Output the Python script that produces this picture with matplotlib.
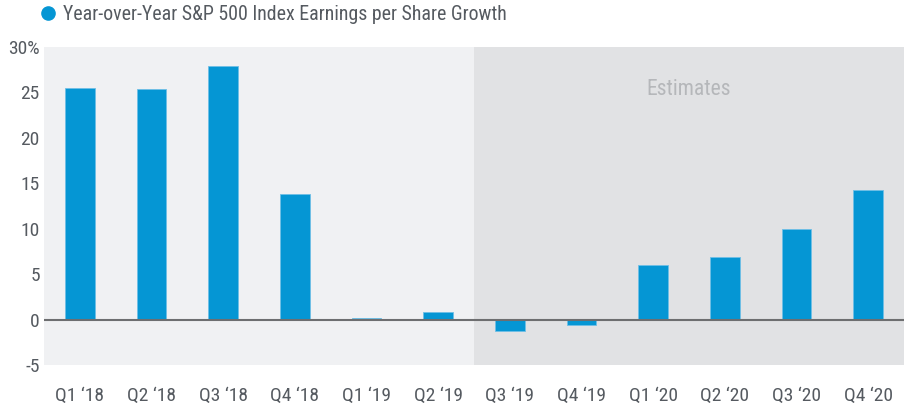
import matplotlib.pyplot as plt
from matplotlib.lines import Line2D
import numpy as np

plt.rcParams['font.family'] = ['Liberation Sans Narrow', 'Roboto Condensed', 'Open Sans Condensed',
                               'Roboto', 'DejaVu Sans']

trimestres = ['Q1 \u201818', 'Q2 \u201818', 'Q3 \u201818', 'Q4 \u201818',
              'Q1 \u201819', 'Q2 \u201819', 'Q3 \u201819', 'Q4 \u201819',
              'Q1 \u201820', 'Q2 \u201820', 'Q3 \u201820', 'Q4 \u201820']
crecimiento = [25.5, 25.4, 27.9, 13.8, 0.2, 0.85, -1.3, -0.55, 6.05, 6.9, 9.95, 14.3]
inicio_estimaciones = 6  # first estimated quarter (Q3 '19)
yticks = [-5, 0, 5, 10, 15, 20, 25, 30]
ytick_labels = ['-5', '0', '5', '10', '15', '20', '25', '30%']

azul = '#0596d4'
texto = '#555a60'

fig = plt.figure(figsize=(9.05, 4.09), dpi=100)
ax = fig.add_axes([44 / 905, 44 / 409, 860 / 905, 318 / 409])

x = np.arange(len(trimestres))
ax.set_xlim(-0.5, len(trimestres) - 0.5)
ax.set_ylim(-5, 30)

ax.set_facecolor('#f0f1f3')
ax.axvspan(inicio_estimaciones - 0.5, len(trimestres) - 0.5, color='#e1e2e4', zorder=0, lw=0)
ax.text((inicio_estimaciones - 0.5 + len(trimestres) - 0.5) / 2, 25.3, 'Estimates',
        ha='center', va='center', color='#b5b7ba', fontsize=15.5)

ax.bar(x, crecimiento, width=0.41, color=azul, edgecolor='#6fbfe6', linewidth=0.6, zorder=2)
ax.axhline(0, color='#6d6e70', linewidth=1.5, zorder=3)

ax.set_xticks(x)
ax.set_xticklabels(trimestres, fontsize=14, color=texto)
ax.set_yticks(yticks)
ax.set_yticklabels(ytick_labels, fontsize=14, color=texto)
ax.tick_params(axis='both', length=0)
ax.tick_params(axis='x', pad=16)
ax.tick_params(axis='y', pad=3)
for s in ax.spines.values():
    s.set_visible(False)

handle = Line2D([], [], marker='o', linestyle='', color=azul, markersize=9.5)
fig.legend(handles=[handle], labels=['Year-over-Year S&P 500 Index Earnings per Share Growth'],
           loc='center left', bbox_to_anchor=(38 / 905, 1 - 14 / 409), frameon=False,
           handletextpad=0.25, borderaxespad=0, borderpad=0, fontsize=14.3,
           labelcolor=texto, handlelength=1.0)

fig.savefig('out.png', dpi=100)
